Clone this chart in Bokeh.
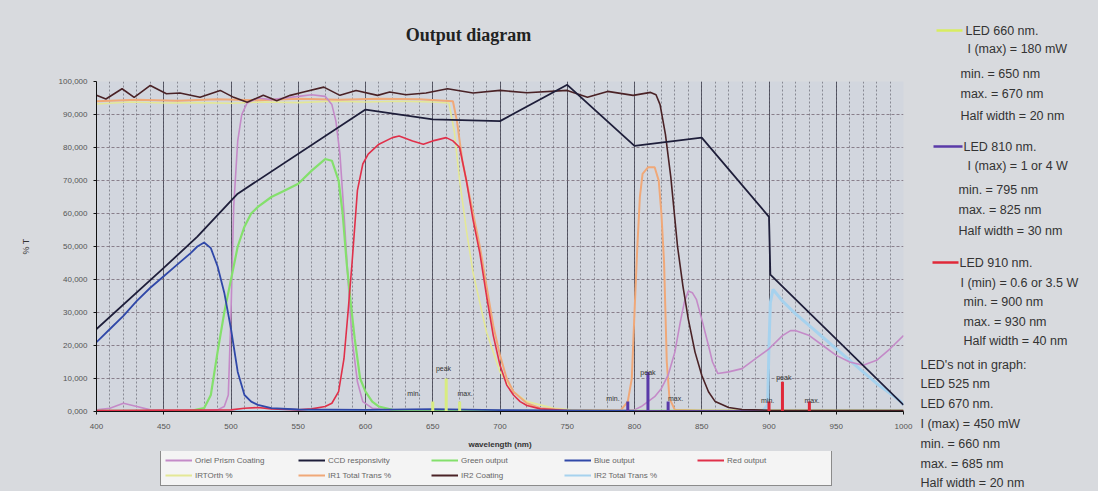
from bokeh.plotting import figure
from bokeh.layouts import row, column
from bokeh.models import Range1d, SingleIntervalTicker, FixedTicker, Legend, LegendItem
from bokeh.embed import file_html
from bokeh.resources import INLINE
from bokeh.core.properties import value

# ---------------- data ----------------
oriel_x = [400, 410, 420, 430, 440, 460, 480, 490, 495, 498, 500, 502, 505, 508, 512, 520, 530, 540, 550,
           560, 570, 575, 578, 581, 584, 587, 590, 594, 598, 605, 620, 700, 780, 800, 805, 810, 815, 820,
           825, 830, 834, 837, 840, 843, 846, 850, 855, 858, 862, 870, 880, 890, 900, 910, 916, 920, 930,
           940, 950, 960, 970, 980, 990, 1000]
oriel_y = [0.5, 1.0, 2.5, 1.5, 0.5, 0.3, 0.3, 0.5, 1.5, 5, 30, 62, 82, 90, 93.5, 95.0, 94.5, 95.0, 95.5,
           96.0, 95.5, 93, 88, 78, 60, 40, 22, 9, 3, 1, 0.4, 0.3, 0.3, 0.5, 1.5, 3, 4.5, 7,
           11, 18, 27, 33, 36.5, 36, 34, 28, 20, 15, 11.5, 12, 13, 16, 19, 23, 24.5, 24.5, 23,
           20, 17, 15, 14, 15.5, 19, 23]

ccd_x = [400, 450, 475, 505, 600, 650, 700, 750, 800, 850, 900, 901, 1000]
ccd_y = [25, 43.5, 53, 66, 91.5, 88.5, 88, 99, 80.5, 83, 59, 41.5, 2]

green_x = [400, 470, 480, 485, 490, 495, 500, 505, 510, 515, 520, 530, 540, 550, 560, 570, 575, 580,
           583, 586, 589, 592, 596, 600, 605, 610, 620, 640, 700, 1000]
green_y = [0.2, 0.2, 1, 5, 18, 30, 40, 50, 56, 60, 62, 65, 67, 69, 73, 76.5, 76, 70,
           60, 45, 33, 22, 10, 6, 3, 1.5, 0.5, 0.2, 0.2, 0.2]

blue_x = [400, 410, 420, 430, 440, 450, 460, 470, 475, 480, 485, 490, 495, 500, 505, 510, 515, 520,
          530, 550, 600, 650, 700, 800, 900, 1000]
blue_y = [21, 25, 29, 33.5, 37.5, 41, 44.5, 48, 50, 51.2, 49.5, 44, 36, 25, 12, 5, 3, 2,
          1, 0.6, 0.5, 0.7, 0.4, 0.2, 0.1, 0.1]

red_x = [400, 500, 510, 520, 530, 550, 560, 570, 575, 580, 584, 587, 590, 594, 598, 602, 610, 620, 625,
         635, 643, 650, 660, 665, 670, 675, 680, 685, 690, 695, 700, 705, 710, 715, 720, 730, 750, 1000]
red_y = [0.3, 0.5, 1, 1.2, 0.8, 0.5, 0.8, 1.5, 2.5, 6, 16, 30, 45, 67, 75, 78, 81, 83, 83.5,
         82, 81, 82, 83, 82, 80, 70, 58, 48, 35, 23, 14, 8, 5, 3, 1.8, 0.8, 0.3, 0.2]

irtorth_x = [400, 425, 450, 475, 500, 525, 550, 575, 600, 625, 650, 662, 666, 670, 675, 680, 690, 700,
             710, 720, 740, 760, 1000]
irtorth_y = [93.2, 93.8, 93.5, 93.6, 93.4, 93.8, 93.6, 94.0, 93.8, 94.0, 93.8, 93.5, 85, 70, 55, 42, 24, 12,
             6, 3, 1, 0.3, 0.2]

ir1_x = [400, 430, 460, 490, 520, 550, 580, 610, 640, 665, 668, 672, 676, 680, 685, 690, 695, 700, 705,
         710, 720, 730, 750, 790, 795, 798, 800, 802, 804, 806, 810, 815, 818, 820, 822, 824, 826, 830,
         850, 1000]
ir1_y = [94.0, 94.5, 94.2, 94.6, 94.3, 94.8, 94.5, 94.8, 94.6, 94.0, 88, 76, 68, 60, 50, 38, 26, 17, 10,
         6, 2.5, 1, 0.4, 0.5, 3, 10, 30, 49, 65, 72, 74, 74, 70, 60, 45, 15, 4, 0.5,
         0.3, 0.2]

ir2c_x = [400, 407, 419, 428, 440, 452, 462, 477, 492, 502, 512, 524, 534, 544, 554, 569, 581, 593, 609,
          618, 630, 645, 661, 680, 700, 720, 750, 765, 780, 799, 812, 816, 819, 823, 827, 832, 836, 840,
          845, 850, 855, 860, 870, 880, 900, 950, 1000]
ir2c_y = [95.8, 94.7, 97.8, 95.2, 98.8, 96.3, 96.5, 95.2, 97.3, 95.2, 93.7, 95.8, 94.2, 95.8, 96.8, 98.3,
          95.8, 97.3, 95.8, 96.8, 96.0, 96.5, 97.8, 96.5, 97.3, 96.6, 97.3, 95.2, 97.0, 95.8, 96.7, 96.0,
          93, 84, 71, 50, 38, 28, 18, 11, 6, 3, 1.2, 0.6, 0.4, 0.3, 0.3]

ir2t_x = [400, 895, 899, 900, 901, 903, 905, 910, 920, 930, 940, 950, 960, 970, 980, 990, 998, 1000]
ir2t_y = [0.0, 0.0, 2, 20, 33, 37, 36, 33.5, 29.5, 26, 22.5, 19, 15.5, 12, 8.5, 5.5, 3, 2]

led_nm = [650, 660, 670, 795, 810, 825, 900, 910, 930]
led_h = [3, 10, 3, 3, 12, 3, 3, 9, 3]
led_col = ["#d8ec80"] * 3 + ["#5a3aa8"] * 3 + ["#e02838"] * 3

y_ticks = [0, 10, 20, 30, 40, 50, 60, 70, 80, 90, 100]
y_tick_labels = ["0,000", "10,000", "20,000", "30,000", "40,000", "50,000",
                 "60,000", "70,000", "80,000", "90,000", "100,000"]

series = [
    ("IRTOrth %", irtorth_x, irtorth_y, "#e4e896", 1.6),
    ("IR1 Total Trans %", ir1_x, ir1_y, "#f0a878", 2.0),
    ("IR2 Total Trans %", ir2t_x, ir2t_y, "#a6d2ee", 3.0),
    ("Oriel Prism Coating", oriel_x, oriel_y, "#c48ac8", 1.6),
    ("Green output", green_x, green_y, "#84e06c", 2.2),
    ("Red output", red_x, red_y, "#e0304a", 1.6),
    ("Blue output", blue_x, blue_y, "#3048a8", 1.8),
    ("IR2 Coating", ir2c_x, ir2c_y, "#4a2226", 1.6),
    ("CCD responsivity", ccd_x, ccd_y, "#1e1e3a", 1.8),
]
legend_order = ["Oriel Prism Coating", "CCD responsivity", "Green output", "Blue output", "Red output",
                "IRTOrth %", "IR1 Total Trans %", "IR2 Coating", "IR2 Total Trans %"]

note_lines = [
    "LED 660 nm.", "I (max) = 180 mW", "min. = 650 nm", "max. = 670 nm", "Half width = 20 nm",
    "LED 810 nm.", "I (max) = 1 or 4 W", "min. = 795 nm", "max. = 825 nm", "Half width = 30 nm",
    "LED 910 nm.", "I (min) = 0.6 or 3.5 W", "min. = 900 nm", "max. = 930 nm", "Half width = 40 nm",
    "LED's not in graph:", "LED 525 nm", "LED 670 nm.", "I (max) = 450 mW", "min. = 660 nm",
    "max. = 685 nm", "Half width = 20 nm",
]
note_colors = ["#d8ec60", "#5a3aa8", "#e02838"]

BG = "#d8dade"
FONT = "Liberation Sans"

TOTAL_W, TOTAL_H = 1098, 491
W1 = 913
H0 = 46             # title strip
H2 = 40             # legend strip
H1 = TOTAL_H - H0 - H2
FL, FR = 96, 10     # frame borders, left / right


def blank(width, height, xr, yr, **kw):
    f = figure(width=width, height=height, output_backend="svg", toolbar_location=None,
               x_range=xr, y_range=yr, x_axis_type=None, y_axis_type=None, **kw)
    f.border_fill_color = BG
    f.background_fill_color = BG
    f.outline_line_color = None
    f.xgrid.visible = False
    f.ygrid.visible = False
    return f


# ---------------- title strip ----------------
t = blank(W1, H0, Range1d(FL, W1 - FR), Range1d(H0, 0),
          min_border_left=FL, min_border_right=FR, min_border_top=0, min_border_bottom=0)
t.text(x=[468], y=[34], text=["Output diagram"], text_font=value("Liberation Serif"),
       text_font_size="18px", text_font_style="bold", text_color="#222222",
       text_align="center", text_baseline="middle")

# ---------------- main figure ----------------
p = figure(width=W1, height=H1, output_backend="svg", toolbar_location=None,
           x_range=Range1d(400, 1000), y_range=Range1d(0, 100),
           min_border_left=FL, min_border_right=FR, min_border_top=81 - H0, min_border_bottom=40)
p.border_fill_color = BG
p.background_fill_color = "#d2d6de"
p.outline_line_color = None

xt = SingleIntervalTicker(interval=50, num_minor_ticks=5)
p.xaxis.ticker = xt
p.xgrid.ticker = xt
p.xgrid.grid_line_color = "#3a3a48"
p.xgrid.grid_line_alpha = 0.75
p.xgrid.minor_grid_line_color = "#4a4a55"
p.xgrid.minor_grid_line_alpha = 0.55
p.xgrid.minor_grid_line_dash = "2 2"

p.yaxis.ticker = FixedTicker(ticks=y_ticks)
p.ygrid.ticker = FixedTicker(ticks=y_ticks)
p.ygrid.grid_line_color = "#6a5a68"
p.ygrid.grid_line_alpha = 0.7
p.ygrid.grid_line_dash = "3 2"
p.yaxis.major_label_overrides = {tk: s for tk, s in zip(y_ticks, y_tick_labels)}

for ax in (p.xaxis, p.yaxis):
    ax.axis_line_color = "#111111"
    ax.major_tick_line_color = "#111111"
    ax.minor_tick_line_color = None
    ax.major_tick_out = 3
    ax.major_tick_in = 0
    ax.major_label_text_font = FONT
    ax.major_label_text_font_size = "8px"
    ax.major_label_text_color = "#555555"
    ax.axis_label_text_font = FONT
    ax.axis_label_text_font_style = "normal"
    ax.axis_label_text_color = "#333333"
p.xaxis.major_label_standoff = 8
p.yaxis.major_label_standoff = 6
p.yaxis.axis_label = "% T"
p.yaxis.axis_label_text_font_size = "9px"
p.yaxis.axis_label_standoff = 25
p.xaxis.axis_label = "wavelength (nm)"
p.xaxis.axis_label_text_font_size = "8px"
p.xaxis.axis_label_text_font_style = "bold"
p.xaxis.axis_label_standoff = 8

for name, xs, ys, col, lw in series:
    p.line(xs, ys, line_color=col, line_width=lw)

p.segment(x0=led_nm, y0=[0] * len(led_nm), x1=led_nm, y1=led_h, line_color=led_col, line_width=3)

cap_x = [636, 658, 674, 784, 810, 830.5, 899, 911, 932]
cap_y = [5.5, 13, 5.5, 4, 11.8, 4, 3.3, 10.3, 3.3]
cap_t = ["min.", "peak", "max.", "min.", "peak", "max.", "min.", "peak", "max."]
p.text(x=cap_x, y=cap_y, text=cap_t, text_font=value(FONT), text_font_size="7px",
       text_color="#333333", text_align="center", text_baseline="middle")

# ---------------- legend strip (below) ----------------
lg = blank(W1, H2, Range1d(0, 1), Range1d(0, 1), min_border=0)
lrend = {}
for name, xs, ys, col, lw in series:
    # same series, drawn outside this strip's ranges: only used for the legend glyphs
    lrend[name] = lg.line(xs, ys, line_color=col, line_width=2)
legend = Legend(items=[LegendItem(label=nm, renderers=[lrend[nm]]) for nm in legend_order],
                location=(64, 5), orientation="horizontal", ncols=5,
                glyph_width=27, glyph_height=12, label_height=12, label_width=100,
                label_standoff=3, spacing=3, padding=4, margin=0,
                label_text_font=FONT, label_text_font_size="8px",
                label_text_color="#666666",
                border_line_color="#222222", border_line_width=1,
                background_fill_color="#f4f4f4", background_fill_alpha=1.0)
lg.add_layout(legend)

# ---------------- notes panel (right) ----------------
W2 = TOTAL_W - W1
n = blank(W2, TOTAL_H, Range1d(W1, TOTAL_W), Range1d(TOTAL_H, 0), min_border=0)

note_x = [965, 967, 960, 960, 960, 963, 967, 958, 958, 958, 959, 960, 963, 963, 963,
          920, 920, 920, 920, 920, 920, 920]
note_y = [30, 48, 73, 93, 115, 146, 165, 189, 209, 230, 262, 282, 301, 321, 340,
          364, 383, 403, 423, 443, 463, 482]
n.text(x=note_x, y=note_y, text=note_lines, text_font=value(FONT),
       text_font_size="12.5px", text_color="#333333", text_baseline="middle", text_align="left")
n.segment(x0=[936, 933, 932], y0=[30, 146, 262], x1=[962, 962, 958], y1=[30, 146, 262],
          line_color=note_colors, line_width=2.5)

layout = row(column(t, p, lg), n, styles={"background-color": BG})
open("out.html", "w").write(file_html(layout, INLINE))
